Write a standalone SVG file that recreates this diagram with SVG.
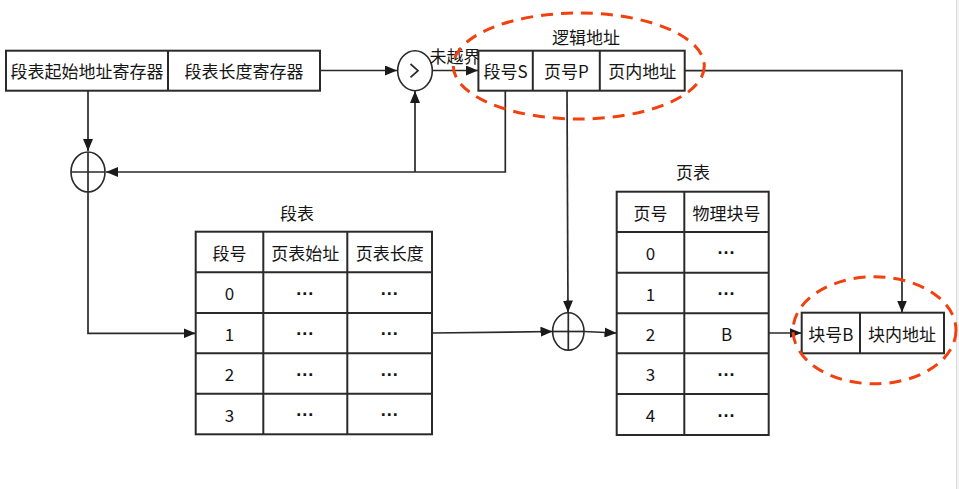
<svg xmlns="http://www.w3.org/2000/svg" width="959" height="489" viewBox="0 0 959 489">
<style>
  .box{fill:#fff;stroke:#2a2a2a;stroke-width:2}
  .ln{fill:none;stroke:#2a2a2a;stroke-width:1.7}
  .cl{fill:#fff;stroke:#2a2a2a;stroke-width:1.6}
  .t{font-family:"Noto Sans CJK SC","Liberation Sans",sans-serif;font-size:17px;fill:#151515;text-anchor:middle;dominant-baseline:central}
  .d{font-family:"Liberation Sans",sans-serif;font-weight:bold;font-size:18px;fill:#151515;text-anchor:middle;dominant-baseline:central}
  .red{fill:none;stroke:#f2400e;stroke-width:3;stroke-dasharray:12 8}
</style>
<defs>
  <marker id="ar" viewBox="0 0 12 10" refX="12" refY="5" markerWidth="12" markerHeight="10" markerUnits="userSpaceOnUse" orient="auto">
    <path d="M0,0 L12,5 L0,10 Z" fill="#1a1a1a"/>
  </marker>
</defs>
<rect x="0" y="0" width="959" height="489" fill="#fff"/>
<rect x="956.5" y="0" width="2.5" height="489" fill="#f2f2f2"/>
<line x1="956.5" y1="0" x2="956.5" y2="489" stroke="#dcdcdc" stroke-width="1"/>

<g id="connectors">
  <line class="ln" x1="320" y1="70.5" x2="397" y2="70.5" marker-end="url(#ar)"/>
  <line class="ln" x1="432" y1="70.5" x2="478" y2="70.5" marker-end="url(#ar)"/>
  <line class="ln" x1="88" y1="91" x2="88" y2="151" marker-end="url(#ar)"/>
  <polyline class="ln" points="505.3,91 505.3,172 106,172" marker-end="url(#ar)"/>
  <line class="ln" x1="415" y1="172" x2="415" y2="91" marker-end="url(#ar)"/>
  <polyline class="ln" points="88,192 88,333.3 195.5,333.3" marker-end="url(#ar)"/>
  <line class="ln" x1="432" y1="333" x2="552.5" y2="331.5" marker-end="url(#ar)"/>
  <line class="ln" x1="567" y1="91" x2="568" y2="312.5" marker-end="url(#ar)"/>
  <line class="ln" x1="584" y1="331.5" x2="616.5" y2="333" marker-end="url(#ar)"/>
  <line class="ln" x1="769" y1="333" x2="801.5" y2="333" marker-end="url(#ar)"/>
  <polyline class="ln" points="685,70.7 902,70.7 902,312.5" marker-end="url(#ar)"/>
</g>

<g id="reg">
  <rect class="box" x="6" y="50.7" width="314" height="40"/>
  <line class="box" x1="168" y1="50.7" x2="168" y2="90.7"/>
  <text class="t" x="87" y="70.7">段表起始地址寄存器</text>
  <text class="t" x="244" y="70.7">段表长度寄存器</text>
</g>

<g id="cmp">
  <ellipse class="cl" cx="415" cy="70.7" rx="17.3" ry="20"/>
  <polyline class="ln" points="410.5,64 418,70.7 410.5,77.4" stroke-width="1.4"/>
  <text class="t" x="455" y="55" font-size="16.5">未越界</text>
</g>

<g id="logical">
  <rect class="box" x="478.4" y="50.7" width="206.3" height="40"/>
  <line class="box" x1="532.8" y1="50.7" x2="532.8" y2="90.7"/>
  <line class="box" x1="599.8" y1="50.7" x2="599.8" y2="90.7"/>
  <text class="t" x="505.6" y="70.7">段号S</text>
  <text class="t" x="566.3" y="70.7">页号P</text>
  <text class="t" x="642.2" y="70.7">页内地址</text>
  <text class="t" x="586" y="36">逻辑地址</text>
  <ellipse class="red" cx="578.8" cy="66" rx="125.5" ry="53"/>
</g>

<g id="add1">
  <ellipse class="cl" cx="88" cy="172" rx="17" ry="20"/>
  <line class="ln" x1="71" y1="172" x2="105" y2="172"/>
  <line class="ln" x1="88" y1="152" x2="88" y2="192"/>
</g>

<g id="segtable">
  <text class="t" x="297" y="212">段表</text>
  <rect class="box" x="195.7" y="231.7" width="236.3" height="202.6"/>
  <line class="box" x1="263.3" y1="231.7" x2="263.3" y2="434.3"/>
  <line class="box" x1="347.3" y1="231.7" x2="347.3" y2="434.3"/>
  <line class="box" x1="195.7" y1="272.3" x2="432" y2="272.3"/>
  <line class="box" x1="195.7" y1="313" x2="432" y2="313"/>
  <line class="box" x1="195.7" y1="353.3" x2="432" y2="353.3"/>
  <line class="box" x1="195.7" y1="393.7" x2="432" y2="393.7"/>
  <text class="t" x="229.5" y="252">段号</text>
  <text class="t" x="305.3" y="252">页表始址</text>
  <text class="t" x="389.7" y="252">页表长度</text>
  <text class="t" x="229.5" y="292.6">0</text>
  <text class="t" x="229.5" y="333">1</text>
  <text class="t" x="229.5" y="373.5">2</text>
  <text class="t" x="229.5" y="414">3</text>
  <text class="d" x="305.3" y="293.5">···</text>
  <text class="d" x="389.7" y="293.5">···</text>
  <text class="d" x="305.3" y="334">···</text>
  <text class="d" x="389.7" y="334">···</text>
  <text class="d" x="305.3" y="374.5">···</text>
  <text class="d" x="389.7" y="374.5">···</text>
  <text class="d" x="305.3" y="415">···</text>
  <text class="d" x="389.7" y="415">···</text>
</g>

<g id="add2">
  <ellipse class="cl" cx="568.3" cy="331.5" rx="15.7" ry="18.7"/>
  <line class="ln" x1="552.6" y1="331.5" x2="584" y2="331.5"/>
  <line class="ln" x1="568.3" y1="312.8" x2="568.3" y2="350.2"/>
</g>

<g id="pagetable">
  <text class="t" x="693" y="171">页表</text>
  <rect class="box" x="616.7" y="191.7" width="152" height="243.3"/>
  <line class="box" x1="684.3" y1="191.7" x2="684.3" y2="435"/>
  <line class="box" x1="616.7" y1="232" x2="768.7" y2="232"/>
  <line class="box" x1="616.7" y1="272.7" x2="768.7" y2="272.7"/>
  <line class="box" x1="616.7" y1="313.3" x2="768.7" y2="313.3"/>
  <line class="box" x1="616.7" y1="353.3" x2="768.7" y2="353.3"/>
  <line class="box" x1="616.7" y1="394" x2="768.7" y2="394"/>
  <text class="t" x="650.5" y="212">页号</text>
  <text class="t" x="726.5" y="212">物理块号</text>
  <text class="t" x="650.5" y="252.3">0</text>
  <text class="t" x="650.5" y="293">1</text>
  <text class="t" x="650.5" y="333.3">2</text>
  <text class="t" x="650.5" y="373.7">3</text>
  <text class="t" x="650.5" y="414.5">4</text>
  <text class="d" x="726.5" y="253.3">···</text>
  <text class="d" x="726.5" y="294">···</text>
  <text class="t" x="726.5" y="333.3">B</text>
  <text class="d" x="726.5" y="374.7">···</text>
  <text class="d" x="726.5" y="415.5">···</text>
</g>

<g id="physical">
  <rect class="box" x="801.7" y="312.7" width="142.3" height="40.6"/>
  <line class="box" x1="860" y1="312.7" x2="860" y2="353.3"/>
  <text class="t" x="830.8" y="333">块号B</text>
  <text class="t" x="902" y="333">块内地址</text>
  <ellipse class="red" cx="874.5" cy="330.3" rx="81.5" ry="53.5"/>
</g>
</svg>
